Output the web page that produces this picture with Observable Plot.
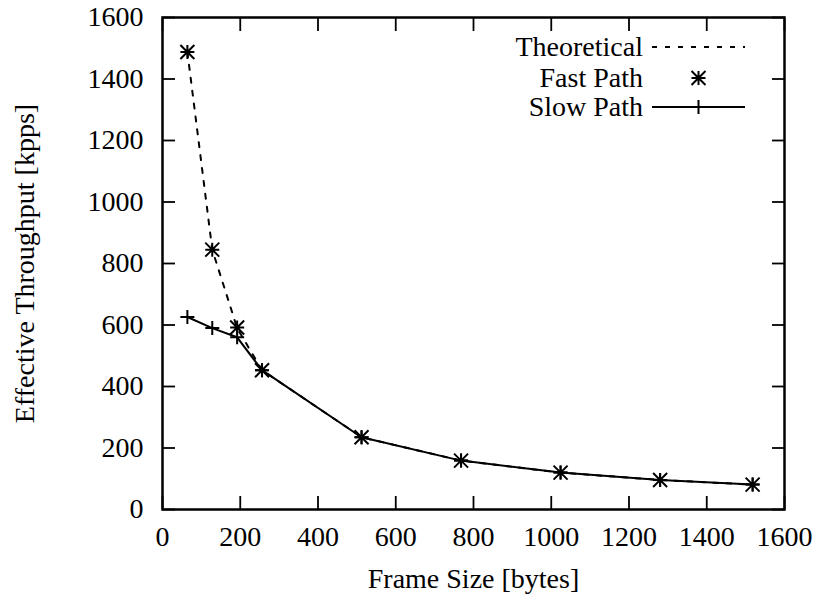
<!DOCTYPE html>
<html>
<head>
<meta charset="utf-8">
<script src="https://cdn.jsdelivr.net/npm/d3@7"></script>
<script src="https://cdn.jsdelivr.net/npm/@observablehq/plot@0.6"></script>
<style>
  html, body { margin: 0; padding: 0; background: #fff; }
  #chart { width: 817px; height: 601px; }
</style>
</head>
<body>
<div id="chart"></div>
<script>
// ---- data ----
const frameSizes  = [64, 128, 192, 256, 512, 768, 1024, 1280, 1518];
const theoretical = [1488, 845, 590, 453, 235, 159, 120, 96, 81];
const fastPath    = [1488, 845, 592, 453, 235, 159, 120, 96, 81];
const slowPath    = [626, 590, 560, 453, 235, 159, 120, 96, 81];
const xTicks = [0, 200, 400, 600, 800, 1000, 1200, 1400, 1600];
const yTicks = [0, 200, 400, 600, 800, 1000, 1200, 1400, 1600];
const seriesNames = ["Theoretical", "Fast Path", "Slow Path"];
const xTitle = "Frame Size [bytes]";
const yTitle = "Effective Throughput [kpps]";

const theoData = frameSizes.map((x, i) => ({x, y: theoretical[i]}));
const fastData = frameSizes.map((x, i) => ({x, y: fastPath[i]}));
const slowData = frameSizes.map((x, i) => ({x, y: slowPath[i]}));

// gnuplot-like star (+ and x overlaid)
const starSymbol = {
  draw(ctx, size) {
    const r = Math.sqrt(size / Math.PI);
    ctx.moveTo(0, -r); ctx.lineTo(0, r);
    ctx.moveTo(-r, 0); ctx.lineTo(r, 0);
    ctx.moveTo(-r, -r); ctx.lineTo(r, r);
    ctx.moveTo(-r, r); ctx.lineTo(r, -r);
  }
};
const plusSymbol = {
  draw(ctx, size) {
    const r = Math.sqrt(size / Math.PI);
    ctx.moveTo(0, -r); ctx.lineTo(0, r);
    ctx.moveTo(-r, 0); ctx.lineTo(r, 0);
  }
};

const FONT = "'Liberation Serif', 'Times New Roman', serif";
const FS = 28;
const W = 817, H = 601;
const mL = 162, mR = 33, mT = 17, mB = 92;
const fmt = d3.format("d");

const chart = Plot.plot({
  width: W,
  height: H,
  marginLeft: mL,
  marginRight: mR,
  marginTop: mT,
  marginBottom: mB,
  style: {fontFamily: FONT, fontSize: FS + "px", color: "black", background: "white"},
  x: {domain: [0, 1600], label: null},
  y: {domain: [0, 1600], label: null},
  marks: [
    Plot.axisX(xTicks, {anchor: "bottom", tickSize: -13, tickPadding: 30, tickFormat: fmt, strokeWidth: 1.8, fontSize: FS, label: null}),
    Plot.axisX(xTicks, {anchor: "top", tickSize: -13, tickFormat: () => "", strokeWidth: 1.8, label: null}),
    Plot.axisY(yTicks, {anchor: "left", tickSize: -13, tickPadding: 32, tickFormat: fmt, strokeWidth: 1.8, fontSize: FS, label: null}),
    Plot.axisY(yTicks, {anchor: "right", tickSize: -13, tickFormat: () => "", strokeWidth: 1.8, label: null}),
    Plot.frame({stroke: "black", strokeWidth: 2.5}),
    Plot.line(theoData, {x: "x", y: "y", stroke: "black", strokeWidth: 2, strokeDasharray: "5,8"}),
    Plot.line(slowData, {x: "x", y: "y", stroke: "black", strokeWidth: 2}),
    Plot.dot(slowData, {x: "x", y: "y", symbol: plusSymbol, r: 7, stroke: "black", strokeWidth: 2, fill: "none"}),
    Plot.dot(fastData, {x: "x", y: "y", symbol: starSymbol, r: 7, stroke: "black", strokeWidth: 2, fill: "none"}),
    Plot.text([xTitle], {frameAnchor: "bottom", dy: 70, lineAnchor: "middle", textAnchor: "middle", fontSize: FS, fill: "black"}),
    Plot.text([yTitle], {frameAnchor: "left", dx: -137, rotate: -90, lineAnchor: "middle", textAnchor: "middle", fontSize: FS, fill: "black"})
  ]
});

document.getElementById("chart").appendChild(chart);

// ---- legend (inside the frame, top right, gnuplot style) ----
const svg = d3.select(chart);
const frameRight = W - mR;
const textRight = frameRight - 141;
const sampleX1 = frameRight - 132, sampleX2 = frameRight - 39;
const sampleMid = (sampleX1 + sampleX2) / 2;
const rowY = [47, 78, 107];
const lg = svg.append("g").attr("font-family", FONT).attr("font-size", FS);
seriesNames.forEach((name, i) => {
  lg.append("text")
    .attr("x", textRight).attr("y", rowY[i])
    .attr("dy", "0.32em")
    .attr("text-anchor", "end")
    .attr("fill", "black")
    .text(name);
});
// Theoretical sample
lg.append("line").attr("x1", sampleX1).attr("x2", sampleX2).attr("y1", rowY[0]).attr("y2", rowY[0])
  .attr("stroke", "black").attr("stroke-width", 2).attr("stroke-dasharray", "5,8");
// Fast path sample (star)
const r = 7;
lg.append("path").attr("transform", `translate(${sampleMid},${rowY[1]})`)
  .attr("d", `M0,${-r}V${r}M${-r},0H${r}M${-r},${-r}L${r},${r}M${-r},${r}L${r},${-r}`)
  .attr("stroke", "black").attr("stroke-width", 2).attr("fill", "none");
// Slow path sample (line + plus)
lg.append("line").attr("x1", sampleX1).attr("x2", sampleX2).attr("y1", rowY[2]).attr("y2", rowY[2])
  .attr("stroke", "black").attr("stroke-width", 2);
lg.append("path").attr("transform", `translate(${sampleMid},${rowY[2]})`)
  .attr("d", `M0,${-r}V${r}M${-r},0H${r}`)
  .attr("stroke", "black").attr("stroke-width", 2).attr("fill", "none");
</script>
</body>
</html>
